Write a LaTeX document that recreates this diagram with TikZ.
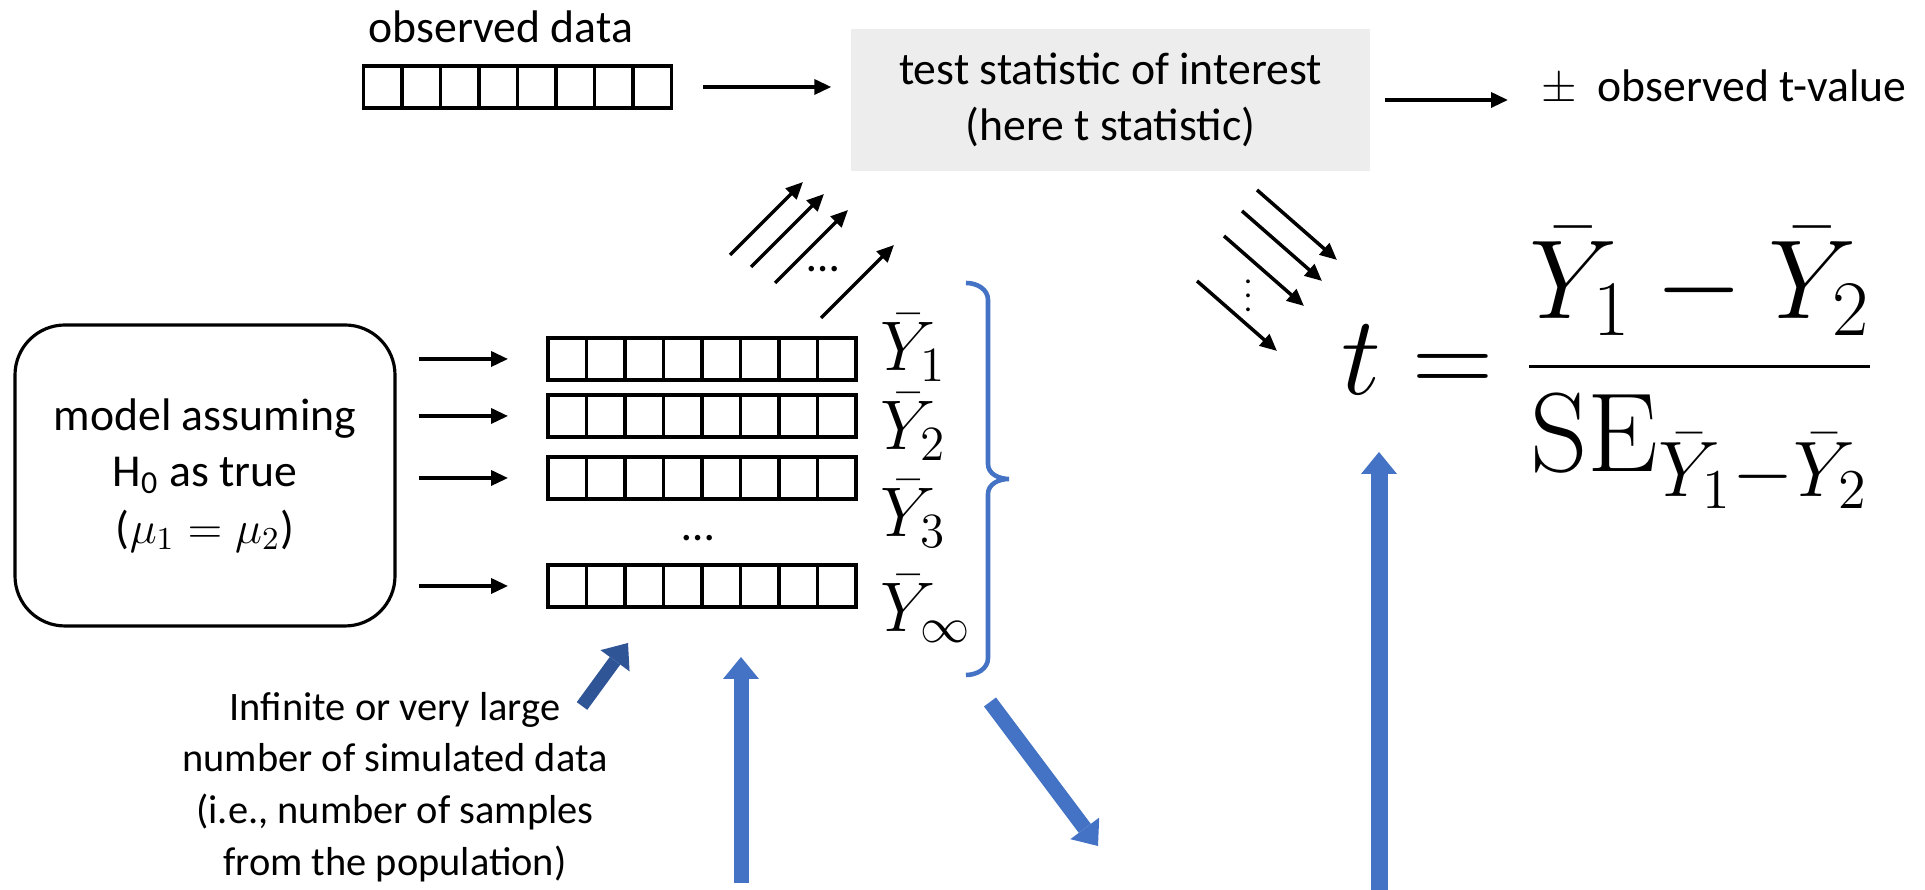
\RequirePackage{fix-cm}
\documentclass[tikz,border=0pt]{standalone}
\usepackage{amsmath}
\usepackage[no-math]{fontspec}
\setmainfont{Carlito}
\usepackage{tikz}
\usetikzlibrary{arrows.meta,calc}
\definecolor{pptblue}{HTML}{4472C4}
\definecolor{pptdark}{HTML}{2F5597}
\definecolor{boxgray}{HTML}{EDEDED}

\begin{document}
\begin{tikzpicture}[
    every node/.style={font=\fontsize{13}{16}\selectfont},
    thin arrow/.style={-{Triangle[length=0.17cm,width=0.15cm]}, line width=1pt},
    fat arrow/.style={pptblue, line width=0.15cm, -{Triangle[length=0.22cm,width=0.36cm,line width=0pt]}},
    strip/.style={draw, line width=1.1pt, minimum width=3.08cm, minimum height=0.42cm, inner sep=0pt,
      path picture={\foreach \k in {1,...,7}
        \draw[line width=1.1pt] ($(path picture bounding box.south west)!\k/8!(path picture bounding box.south east)$)
          -- ($(path picture bounding box.north west)!\k/8!(path picture bounding box.north east)$);}},
    ybar/.style={anchor=base west, inner sep=0pt, font=\fontsize{20}{24}\selectfont}
  ]
    \useasboundingbox (0,0) rectangle (19.25,8.90);

    % 观测数据
    \node (obslabel) at (5.01,8.63) {observed data};
    \node[strip] (obs) at (5.175,8.03) {};

    % 检验统计量
    \node[fill=boxgray, minimum width=5.19cm, minimum height=1.42cm, align=center] (stat) at (11.105,7.90)
      {test statistic of interest\\(here t statistic)};
    \node[anchor=west, inner sep=0pt] (tval) at (15.41,8.02) {$\pm$\hspace{0.45em}observed t-value};
    \draw[thin arrow, shorten <=0.30cm, shorten >=0.19cm] (obs.east) -- (obs.east -| stat.west);
    \draw[thin arrow, shorten <=0.14cm, shorten >=0.33cm] (stat.east) -- (stat.east -| tval.west);

    % 模型
    \node[draw, line width=0.9pt, rounded corners=0.5cm, minimum width=3.80cm, minimum height=3.01cm,
      align=center] (model) at (2.05,4.145) {model assuming\\H\textsubscript{0} as true\\($\mu_1=\mu_2$)};

    % 模拟数据
    \foreach \n/\y in {1/5.31, 2/4.74, 3/4.12, 4/3.04} {
      \node[strip] (s\n) at (7.02,\y) {};
      \draw[thin arrow, shorten <=0.22cm, shorten >=0.38cm] (model.east |- s\n.west) -- (s\n.west);
    }
    \node (sdots) at (6.98,3.52) {\ldots};
    \node[ybar] (m1) at (8.80,5.19) {$\bar{Y}_1$};
    \node[ybar] (m2) at (8.80,4.40) {$\bar{Y}_2$};
    \node[ybar] (m3) at (8.80,3.53) {$\bar{Y}_3$};
    \node[ybar] (m4) at (8.80,2.58) {$\bar{Y}_\infty$};
    \draw[pptblue, line width=1.3pt] (9.66,6.07) to[out=0,in=90] (9.88,5.90) -- (9.88,4.26)
      to[out=-90,in=180] (10.09,4.11) to[out=180,in=90] (9.88,3.96) -- (9.88,2.32) to[out=-90,in=0] (9.66,2.15);

    % 样本 -> 统计量
    \foreach \i/\x/\y in {1/7.30/6.35, 2/7.51/6.23, 3/7.75/6.07, 4/8.21/5.72} {
      \coordinate (u\i) at (\x,\y);
      \coordinate (v\i) at ($(u\i)+(0.73,0.73)$);
      \draw[thin arrow] (u\i) -- (v\i);
    }
    \node (udots) at (8.23,6.21) {\ldots};

    % 统计量 -> t
    \foreach \i/\x/\y in {1/12.57/7.00, 2/12.42/6.79, 3/12.24/6.54, 4/11.97/6.09} {
      \coordinate (p\i) at (\x,\y);
      \coordinate (q\i) at ($(p\i)+(0.80,-0.70)$);
      \draw[thin arrow] (p\i) -- (q\i);
    }
    \node[font=\fontsize{9}{10}\selectfont] (pdots) at (12.48,6.05) {$\vdots$};

    % t 统计量
    \node[font=\fontsize{32}{38}\selectfont] (tform) at (16.08,5.22)
      {$t=\dfrac{\bar{Y}_1-\bar{Y}_2}{\mathrm{SE}_{\bar{Y}_1-\bar{Y}_2}}$};

    % 说明
    \node[align=center, font=\fontsize{11.5}{14.7}\selectfont] (note) at (3.95,1.03)
      {Infinite or very large\\number of simulated data\\(i.e., number of samples\\from the population)};

    % 蓝色箭头
    \coordinate (d1) at (5.82,1.84);
    \coordinate (d2) at (6.28,2.47);
    \draw[fat arrow, pptdark, line width=0.13cm] (d1) -- (d2);
    \coordinate (b1) at (7.41,0.07);
    \coordinate (b2) at (7.41,2.33);
    \draw[fat arrow] (b1) -- (b2);
    \coordinate (c1) at (9.90,1.88);
    \coordinate (c2) at (10.98,0.44);
    \draw[fat arrow] (c1) -- (c2);
    \coordinate (e1) at (13.79,0);
    \coordinate (e2) at (13.79,4.38);
    \draw[fat arrow, line width=0.17cm] (e1) -- (e2);
\end{tikzpicture}
\end{document}
